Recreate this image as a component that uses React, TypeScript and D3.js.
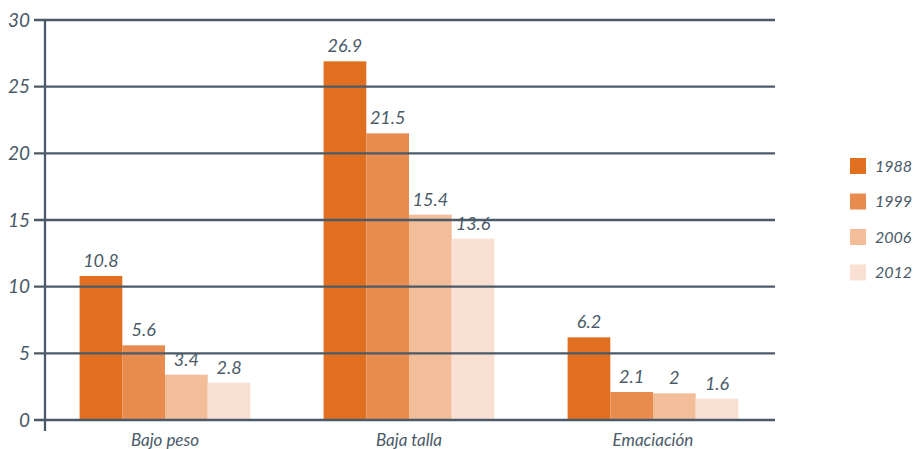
import React from "react";
import * as d3 from "d3";

const categories = ["Bajo peso", "Baja talla", "Emaciación"];
const years = ["1988", "1999", "2006", "2012"];
const values1988 = [10.8, 26.9, 6.2];
const values1999 = [5.6, 21.5, 2.1];
const values2006 = [3.4, 15.4, 2];
const values2012 = [2.8, 13.6, 1.6];
const yTicks = [0, 5, 10, 15, 20, 25, 30];
const colors = ["#e06f1f", "#e88b4e", "#f2bd98", "#f9e0d2"];

const series = [values1988, values1999, values2006, values2012];

export default function App() {
  const W = 915, H = 449;
  const x0 = d3.scaleBand().domain(categories).range([43, 775]).paddingInner(0.3).paddingOuter(0.15);
  const x1 = d3.scaleBand().domain(years).range([0, x0.bandwidth()]);
  const y = d3.scaleLinear().domain([0, 30]).range([420, 20]);
  const axisColor = "#4a5a68";
  const font = "Lato, 'Open Sans', sans-serif";
  return (
    <svg width={W} height={H} style={{ position: "absolute", left: 0, top: 0, background: "#fff" }} fontFamily={font}>
      {categories.map((c, ci) =>
        years.map((yr, si) => {
          const v = series[si][ci];
          const bx = (x0(c) as number) + (x1(yr) as number);
          return (
            <rect key={c + yr} x={bx} y={y(v)} width={x1.bandwidth()} height={y(0) - y(v)} fill={colors[si]} />
          );
        })
      )}
      {yTicks.map((t) => (
        <g key={t}>
          <line x1={34} x2={775} y1={y(t)} y2={y(t)} stroke={axisColor} strokeWidth={2.3} />
          <text x={30} y={y(t)} dy="0.35em" textAnchor="end" fontStyle="italic" fontSize={19} fill={axisColor}>
            {t}
          </text>
        </g>
      ))}
      <line x1={45} x2={45} y1={19} y2={431} stroke={axisColor} strokeWidth={2.3} />
      {categories.map((c, ci) =>
        years.map((yr, si) => {
          const v = series[si][ci];
          const bx = (x0(c) as number) + (x1(yr) as number) + x1.bandwidth() / 2;
          return (
            <text key={"l" + c + yr} x={bx} y={y(v) - 9} textAnchor="middle" fontStyle="italic" fontSize={18} fill={axisColor}>
              {String(v)}
            </text>
          );
        })
      )}
      {categories.map((c) => (
        <text key={"c" + c} x={(x0(c) as number) + x0.bandwidth() / 2} y={446} textAnchor="middle" fontStyle="italic" fontSize={17} fill={axisColor}>
          {c}
        </text>
      ))}
      {years.map((yr, i) => (
        <g key={"lg" + yr} transform={`translate(850, ${158 + i * 35.5})`}>
          <rect x={0} y={0} width={16} height={16} fill={colors[i]} />
          <text x={25} y={8} dy="0.35em" fontStyle="italic" fontSize={16} fill={axisColor}>
            {yr}
          </text>
        </g>
      ))}
    </svg>
  );
}
